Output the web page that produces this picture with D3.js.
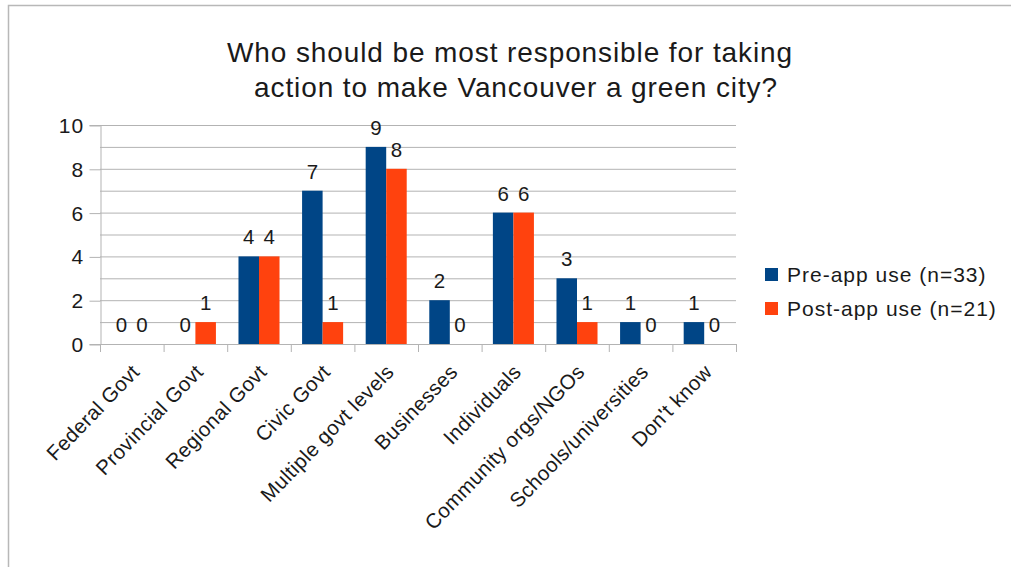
<!DOCTYPE html>
<html>
<head>
<meta charset="utf-8">
<script src="https://cdn.jsdelivr.net/npm/d3@7"></script>
<style>
  html, body { margin: 0; padding: 0; background: #fff; }
  svg { display: block; font-family: "Liberation Sans", Arial, sans-serif; }
</style>
</head>
<body>
<svg id="chart" width="1011" height="567"></svg>
<script>
// Survey answers: who should be most responsible for a green Vancouver
const categories = [
  "Federal Govt", "Provincial Govt", "Regional Govt", "Civic Govt",
  "Multiple govt levels", "Businesses", "Individuals",
  "Community orgs/NGOs", "Schools/universities", "Don't know"
];
const seriesNames = ["Pre-app use (n=33)", "Post-app use (n=21)"];
const preApp  = [0, 0, 4, 7, 9, 2, 6, 3, 1, 1];
const postApp = [0, 1, 4, 1, 8, 0, 6, 1, 0, 0];
const seriesColors = ["#004586", "#ff420e"];
const yTicks = [0, 2, 4, 6, 8, 10];
const titleLines = ["Who should be most responsible for taking", "action to make Vancouver a green city?"];

const svg = d3.select("#chart");
const plot = { left: 100, right: 736, top: 125, bottom: 344 };

// frame around the chart (top and left edges visible)
svg.append("rect")
  .attr("x", 8.5).attr("y", 5.5)
  .attr("width", 1011).attr("height", 567)
  .attr("fill", "none").attr("stroke", "#b8b8b8").attr("stroke-width", 1.5);

// title
svg.append("g").selectAll("text").data(titleLines).join("text")
  .attr("x", (d, i) => i === 0 ? 510 : 516)
  .attr("y", (d, i) => 62 + i * 34.5)
  .attr("text-anchor", "middle")
  .attr("font-size", 28)
  .attr("letter-spacing", 0.9)
  .attr("fill", "#1a1a1a")
  .text(d => d);

const x0 = d3.scaleBand().domain(categories).range([plot.left, plot.right]);
const x1 = d3.scaleBand().domain(seriesNames).range([0, x0.bandwidth()]).paddingOuter(0.55);
const y = d3.scaleLinear().domain([0, 10]).range([plot.bottom, plot.top]);

// horizontal gridlines at every unit
svg.append("g").selectAll("line").data(d3.range(0, 11)).join("line")
  .attr("x1", plot.left).attr("x2", plot.right)
  .attr("y1", d => y(d) + 0.5).attr("y2", d => y(d) + 0.5)
  .attr("stroke", "#b3b3b3").attr("stroke-width", 1);

// y axis
const yAxis = svg.append("g")
  .attr("transform", `translate(${plot.left + 0.5},0)`)
  .call(d3.axisLeft(y).tickValues(yTicks).tickSize(11).tickPadding(5).tickFormat(d3.format("d")));
yAxis.select(".domain").attr("stroke", "#b3b3b3");
yAxis.selectAll(".tick line").attr("stroke", "#b3b3b3").attr("transform", "translate(0,0.5)");
yAxis.selectAll(".tick text")
  .attr("font-size", 21).attr("fill", "#1a1a1a")
  .attr("font-family", "Liberation Sans, Arial, sans-serif")
  .attr("letter-spacing", 1.2)
  .attr("dy", "0.36em");

// x axis ticks at category boundaries
const boundaries = categories.map(c => x0(c)).concat([plot.right]);
svg.append("g").selectAll("line").data(boundaries).join("line")
  .attr("x1", d => d + 0.5).attr("x2", d => d + 0.5)
  .attr("y1", plot.bottom).attr("y2", plot.bottom + 8)
  .attr("stroke", "#b3b3b3");
svg.append("line")
  .attr("x1", plot.left).attr("x2", plot.right)
  .attr("y1", plot.bottom + 0.5).attr("y2", plot.bottom + 0.5)
  .attr("stroke", "#b3b3b3");

// category labels, rotated
svg.append("g").selectAll("text").data(categories).join("text")
  .attr("transform", d => `translate(${x0(d) + x0.bandwidth() / 2 + 9},373) rotate(-46)`)
  .attr("text-anchor", "end")
  .attr("font-size", 20.5)
  .attr("letter-spacing", 0.4)
  .attr("fill", "#1a1a1a")
  .text(d => d);

// bars
const rows = categories.map((c, i) => ({ cat: c, vals: [preApp[i], postApp[i]] }));
const groups = svg.append("g").selectAll("g").data(rows).join("g")
  .attr("transform", d => `translate(${x0(d.cat)},0)`);
groups.selectAll("rect")
  .data(d => d.vals.map((v, k) => ({ v, k })))
  .join("rect")
  .attr("x", d => x1(seriesNames[d.k]))
  .attr("width", x1.bandwidth())
  .attr("y", d => y(d.v))
  .attr("height", d => y(0) - y(d.v))
  .attr("fill", d => seriesColors[d.k]);

// value labels above bars
groups.selectAll("text")
  .data(d => d.vals.map((v, k) => ({ v, k })))
  .join("text")
  .attr("x", d => x1(seriesNames[d.k]) + x1.bandwidth() / 2)
  .attr("y", d => y(d.v) - 12)
  .attr("text-anchor", "middle")
  .attr("font-size", 20.5)
  .attr("fill", "#1a1a1a")
  .text(d => d.v);

// legend
const legend = svg.append("g").selectAll("g").data(seriesNames).join("g")
  .attr("transform", (d, i) => `translate(765,${268 + i * 34})`);
legend.append("rect")
  .attr("width", 13).attr("height", 13)
  .attr("fill", (d, i) => seriesColors[i]);
legend.append("text")
  .attr("x", 22).attr("y", 14)
  .attr("font-size", 21)
  .attr("letter-spacing", 1)
  .attr("fill", "#1a1a1a")
  .text(d => d);
</script>
</body>
</html>
